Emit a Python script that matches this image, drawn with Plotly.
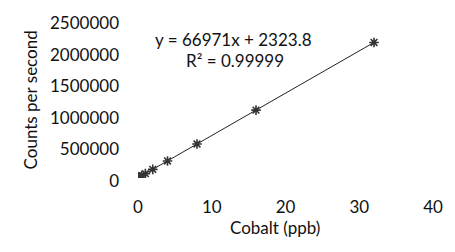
import plotly.graph_objects as go

conc_ppb = [0, 0.1, 0.25, 0.5, 1, 2, 4, 8, 16, 32]
counts = [2400, 9000, 19000, 36000, 69000, 136000, 270000, 538000, 1074000, 2145000]
slope = 66971
intercept = 2323.8
x_ticks = [0, 10, 20, 30, 40]
y_ticks = [0, 500000, 1000000, 1500000, 2000000, 2500000]

fit_x = [min(conc_ppb), max(conc_ppb)]
fit_y = [slope * v + intercept for v in fit_x]

FONT = "Lato, sans-serif"
W, H = 455, 252
L, R, T, B = 138, 18, 12, 74
pw, ph = W - L - R, H - T - B


def px(x):
    return (x - L) / pw


def py(y):
    return (H - B - y) / ph


fig = go.Figure()
fig.add_trace(go.Scatter(x=fit_x, y=fit_y, mode="lines",
                         line=dict(color="#222222", width=1), showlegend=False))
fig.add_trace(go.Scatter(x=conc_ppb, y=counts, mode="markers",
                         marker=dict(symbol="asterisk-open", size=8, color="#333333",
                                     line=dict(color="#333333", width=1.6)),
                         showlegend=False))

font = dict(family=FONT, size=17, color="#111111")
fig.add_annotation(x=px(235), y=py(33), xref="paper", yref="paper",
                   text="y = 66971x + 2323.8", showarrow=False,
                   xanchor="center", yanchor="middle", font=font)
fig.add_annotation(x=px(236), y=py(55), xref="paper", yref="paper",
                   text="R² = 0.99999", showarrow=False,
                   xanchor="center", yanchor="middle", font=font)
fig.add_annotation(x=px(277), y=py(230), xref="paper", yref="paper",
                   text="Cobalt (ppb)", showarrow=False,
                   xanchor="center", yanchor="middle", font=font)
fig.add_annotation(x=px(30), y=py(96), xref="paper", yref="paper",
                   text="Counts per second", showarrow=False, textangle=-90,
                   xanchor="center", yanchor="middle", font=font)

fig.update_layout(
    width=W, height=H,
    margin=dict(l=L, r=R, t=T, b=B),
    paper_bgcolor="white", plot_bgcolor="white",
    font=font,
    xaxis=dict(range=[0, 40], tickvals=x_ticks, showgrid=False, zeroline=False,
               showline=False, ticks="", ticklabelstandoff=17),
    yaxis=dict(range=[0, 2500000], tickvals=y_ticks, ticktext=[str(v) for v in y_ticks],
               showgrid=False, zeroline=False, showline=False, ticks="",
               ticklabelstandoff=18, ticklabelshift=3),
)

fig.write_html("out.html", config={"displayModeBar": False},
               post_script="document.body.style.margin='0';")
